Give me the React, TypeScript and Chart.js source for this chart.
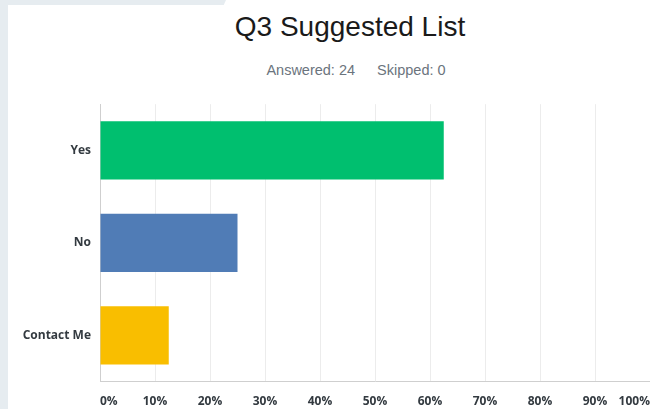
import React, { useEffect, useRef } from "react";
import { Chart, registerables } from "chart.js";

Chart.register(...registerables);

const titleText = "Q3 Suggested List";
const answeredText = "Answered: 24";
const skippedText = "Skipped: 0";
const categories = ["Yes", "No", "Contact Me"];
const percentages = [62.5, 25, 12.5];
const barColors = ["#00bf6f", "#507cb6", "#f9be00"];
const xTicksMin = 0;
const xTicksMax = 100;
const xTickStep = 10;

export default function App() {
  const canvasRef = useRef<HTMLCanvasElement | null>(null);

  useEffect(() => {
    const canvas = canvasRef.current;
    if (!canvas) return;
    const chart = new Chart(canvas, {
      type: "bar",
      data: {
        labels: categories,
        datasets: [
          {
            data: percentages,
            backgroundColor: barColors,
            borderWidth: 0,
            barPercentage: 0.63,
            categoryPercentage: 1,
          },
        ],
      },
      options: {
        indexAxis: "y",
        responsive: false,
        animation: false,
        devicePixelRatio: 1,
        layout: { padding: { top: 0, left: 0, right: 0, bottom: 0 } },
        plugins: {
          legend: { display: false },
          title: { display: false },
          tooltip: { enabled: false },
        },
        scales: {
          x: {
            min: xTicksMin,
            max: xTicksMax,
            grid: {
              color: (ctx: any) =>
                ctx.tick && ctx.tick.value === xTicksMax ? "rgba(0,0,0,0)" : "#ececec",
              lineWidth: 1,
              drawTicks: true,
              tickLength: 13,
              tickColor: "rgba(0,0,0,0)",
            },
            border: { display: true, color: "#cfcfcf", width: 1 },
            ticks: {
              stepSize: xTickStep,
              align: "inner",
              padding: 0,
              color: "#333a40",
              font: { family: "'Open Sans', sans-serif", size: 12, weight: "bold" },
              callback: (v: any) => v + "%",
            },
          },
          y: {
            grid: { display: false, drawTicks: false },
            border: { display: true, color: "#cfcfcf", width: 1 },
            ticks: {
              padding: 9,
              color: "#333a40",
              font: { family: "'Open Sans', sans-serif", size: 12, weight: "bold" },
            },
            afterFit: (scale: any) => {
              scale.width = 100;
            },
          },
        },
      },
    });
    return () => chart.destroy();
  }, []);

  return (
    <div
      style={{
        position: "absolute",
        left: 0,
        top: 0,
        width: 650,
        height: 409,
        overflow: "hidden",
        background: "#ffffff",
      }}
    >
      <div
        style={{
          position: "absolute",
          left: 0,
          top: 0,
          width: 8,
          height: 409,
          background: "#e6ecf0",
        }}
      />
      <div
        style={{
          position: "absolute",
          left: 0,
          top: 0,
          width: 226,
          height: 5,
          background: "#e6ecf0",
          clipPath: "polygon(0 0, 100% 0, 99% 100%, 0 100%)",
        }}
      />
      <div
        style={{
          position: "absolute",
          left: 50,
          top: 11,
          width: 600,
          textAlign: "center",
          fontFamily: "'Liberation Sans', Arial, sans-serif",
          fontSize: 28,
          lineHeight: "32px",
          color: "#1a1a1a",
          whiteSpace: "nowrap",
        }}
      >
        {titleText}
      </div>
      <div
        style={{
          position: "absolute",
          left: 62,
          top: 61.5,
          width: 588,
          textAlign: "center",
          fontFamily: "'Liberation Sans', Arial, sans-serif",
          fontSize: 14.5,
          lineHeight: "17px",
          color: "#6b747d",
          whiteSpace: "nowrap",
        }}
      >
        <span>{answeredText}</span>
        <span style={{ marginLeft: 22 }}>{skippedText}</span>
      </div>
      <canvas
        ref={canvasRef}
        width={650}
        height={321}
        style={{ position: "absolute", left: 0, top: 88, width: 650, height: 321 }}
      />
    </div>
  );
}
